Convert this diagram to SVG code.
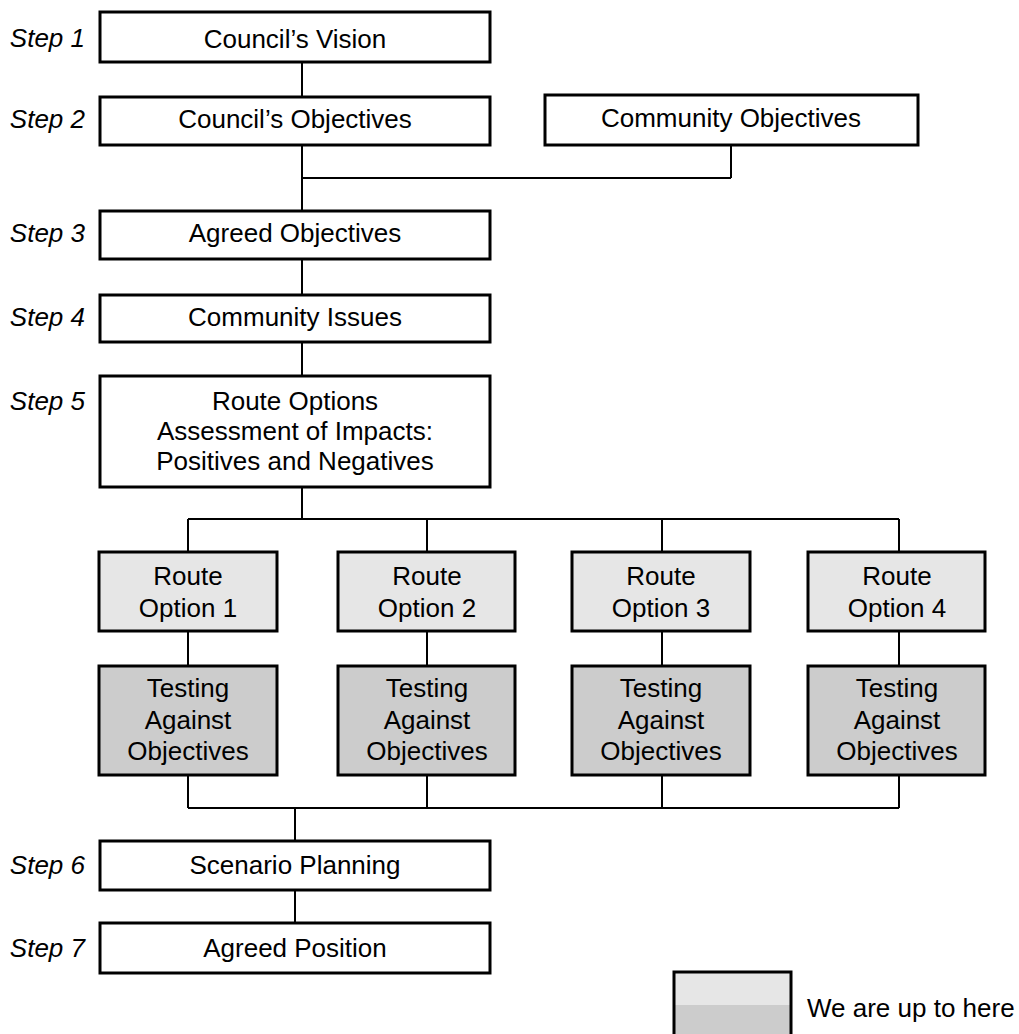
<svg xmlns="http://www.w3.org/2000/svg" width="1019" height="1034" viewBox="0 0 1019 1034">
<style>
text{font-family:"Liberation Sans",Arial,sans-serif;font-size:26px;fill:#000}
.t{text-anchor:middle}
.s{text-anchor:end;font-style:italic}
.box{fill:#fff;stroke:#000;stroke-width:3}
.opt{fill:#e6e6e6;stroke:#000;stroke-width:3}
.tst{fill:#cccccc;stroke:#000;stroke-width:3}
.c{fill:none;stroke:#000;stroke-width:2}
</style>
<rect width="1019" height="1034" fill="#fff"/>
<g id="connectors" class="c">
<path class="c" d="M302 62V97"/>
<path class="c" d="M302 145V211M302 178H731M731 145V178"/>
<path class="c" d="M302 259V295"/>
<path class="c" d="M302 342V376"/>
<path class="c" d="M302 487V519M188 519H899M188 519V552M427 519V552M662 519V552M899 519V552"/>
<path class="c" d="M188 631V666M427 631V666M662 631V666M899 631V666"/>
<path class="c" d="M188 775V808M427 775V808M662 775V808M899 775V808M188 808H899M295 808V841"/>
<path class="c" d="M295 890V923"/>
</g>
<g id="labels">
<text class="s" x="85" y="47">Step 1</text>
<text class="s" x="85" y="128">Step 2</text>
<text class="s" x="85" y="242">Step 3</text>
<text class="s" x="85" y="326">Step 4</text>
<text class="s" x="85" y="410">Step 5</text>
<text class="s" x="85" y="874">Step 6</text>
<text class="s" x="85" y="957">Step 7</text>
</g>
<g id="n1"><rect class="box" x="100" y="12" width="390" height="50"/><text class="t" x="295" y="48">Council’s Vision</text></g>
<g id="n2"><rect class="box" x="100" y="97" width="390" height="48"/><text class="t" x="295" y="128">Council’s Objectives</text></g>
<g id="n2b"><rect class="box" x="545" y="95" width="373" height="50"/><text class="t" x="731" y="127">Community Objectives</text></g>
<g id="n3"><rect class="box" x="100" y="211" width="390" height="48"/><text class="t" x="295" y="242">Agreed Objectives</text></g>
<g id="n4"><rect class="box" x="100" y="295" width="390" height="47"/><text class="t" x="295" y="326">Community Issues</text></g>
<g id="n5"><rect class="box" x="100" y="376" width="390" height="111"/>
<text class="t" x="295" y="410">Route Options</text>
<text class="t" x="295" y="440">Assessment of Impacts:</text>
<text class="t" x="295" y="470">Positives and Negatives</text></g>
<g id="o1"><rect class="opt" x="99" y="552" width="178" height="79"/><text class="t" x="188" y="585">Route</text><text class="t" x="188" y="617">Option 1</text></g>
<g id="o2"><rect class="opt" x="338" y="552" width="177" height="79"/><text class="t" x="427" y="585">Route</text><text class="t" x="427" y="617">Option 2</text></g>
<g id="o3"><rect class="opt" x="572" y="552" width="178" height="79"/><text class="t" x="661" y="585">Route</text><text class="t" x="661" y="617">Option 3</text></g>
<g id="o4"><rect class="opt" x="808" y="552" width="177" height="79"/><text class="t" x="897" y="585">Route</text><text class="t" x="897" y="617">Option 4</text></g>
<g id="t1"><rect class="tst" x="99" y="666" width="178" height="109"/><text class="t" x="188" y="697">Testing</text><text class="t" x="188" y="729">Against</text><text class="t" x="188" y="760">Objectives</text></g>
<g id="t2"><rect class="tst" x="338" y="666" width="177" height="109"/><text class="t" x="427" y="697">Testing</text><text class="t" x="427" y="729">Against</text><text class="t" x="427" y="760">Objectives</text></g>
<g id="t3"><rect class="tst" x="572" y="666" width="178" height="109"/><text class="t" x="661" y="697">Testing</text><text class="t" x="661" y="729">Against</text><text class="t" x="661" y="760">Objectives</text></g>
<g id="t4"><rect class="tst" x="808" y="666" width="177" height="109"/><text class="t" x="897" y="697">Testing</text><text class="t" x="897" y="729">Against</text><text class="t" x="897" y="760">Objectives</text></g>
<g id="n6"><rect class="box" x="100" y="841" width="390" height="49"/><text class="t" x="295" y="874">Scenario Planning</text></g>
<g id="n7"><rect class="box" x="100" y="923" width="390" height="50"/><text class="t" x="295" y="957">Agreed Position</text></g>
<g id="legend">
<rect x="674" y="972" width="117" height="33" fill="#e6e6e6"/>
<rect x="674" y="1005" width="117" height="35" fill="#cccccc"/>
<path d="M674 1040V972H791V1040" fill="none" stroke="#000" stroke-width="3"/>
<text x="807" y="1017">We are up to here</text>
</g>
</svg>
